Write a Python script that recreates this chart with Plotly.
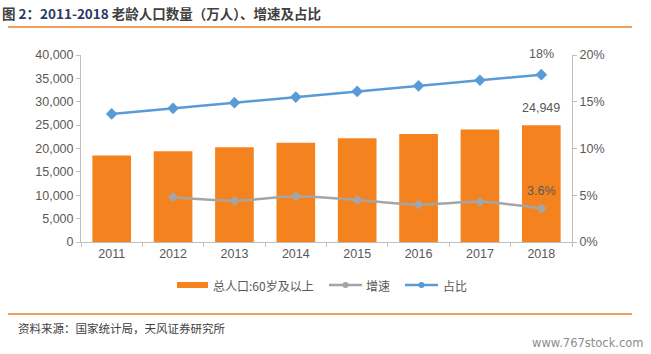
import plotly.graph_objects as go

years = ["2011", "2012", "2013", "2014", "2015", "2016", "2017", "2018"]
population = [18499, 19390, 20243, 21242, 22200, 23086, 24090, 24949]  # 万人, 60岁及以上
growth = [None, 0.048, 0.044, 0.049, 0.045, 0.040, 0.043, 0.036]
share = [0.137, 0.143, 0.149, 0.155, 0.161, 0.167, 0.173, 0.179]

ORANGE = "#F4831F"
GRAY = "#A5A5A5"
BLUE = "#5B9BD5"
TXT = "#595959"
NUM_FONT = "Liberation Sans, Arial, sans-serif"
CJK_FONT = "Noto Sans CJK SC, sans-serif"

fig = go.Figure()
fig.add_trace(go.Bar(x=years, y=population, name="总人口:60岁及以上",
                     marker=dict(color=ORANGE, line=dict(width=0)), width=0.63,
                     yaxis="y"))
fig.add_trace(go.Scatter(x=years, y=growth, name="增速", mode="lines+markers",
                         line=dict(color=GRAY, width=2.5, shape="spline", smoothing=0.8),
                         marker=dict(symbol="diamond", size=8, color=GRAY),
                         yaxis="y2", connectgaps=False))
fig.add_trace(go.Scatter(x=years, y=share, name="占比", mode="lines+markers",
                         line=dict(color=BLUE, width=2.5),
                         marker=dict(symbol="diamond", size=9, color=BLUE),
                         yaxis="y2"))

last = len(years) - 1
# data labels for last point
fig.add_annotation(x=last, xref="x", y=share[-1], yref="y2", text=f"{share[-1]:.0%}", showarrow=False,
                   yshift=21, font=dict(family=NUM_FONT, size=12.5, color=TXT))
fig.add_annotation(x=last, xref="x", y=population[-1], yref="y", text=f"{population[-1]:,}",
                   showarrow=False, yshift=17, font=dict(family=NUM_FONT, size=12.5, color=TXT))
fig.add_annotation(x=last, xref="x", y=growth[-1], yref="y2", text=f"{growth[-1]:.1%}", showarrow=False,
                   yshift=17, font=dict(family=NUM_FONT, size=12.5, color=TXT))

axis_line = "#BFBFBF"
fig.update_layout(
    width=651, height=354,
    margin=dict(l=81, r=79, t=55, b=112),
    paper_bgcolor="white", plot_bgcolor="white",
    showlegend=False,
    xaxis=dict(type="category", range=[-0.5, 7.5], showline=True, linecolor=axis_line,
               linewidth=1, ticks="outside", tickson="boundaries", ticklen=4,
               tickcolor=axis_line, showgrid=False,
               tickfont=dict(family=NUM_FONT, size=12.5, color=TXT)),
    yaxis=dict(range=[0, 40000], dtick=5000, tickformat=",", showgrid=False,
               showline=True, linecolor=axis_line, ticks="outside", ticklen=4,
               tickcolor=axis_line, zeroline=False,
               tickfont=dict(family=NUM_FONT, size=12.5, color=TXT)),
    yaxis2=dict(range=[0, 0.20], dtick=0.05, tickformat=".0%", overlaying="y",
                side="right", showgrid=False, showline=True, linecolor=axis_line,
                ticks="outside", ticklen=4, tickcolor=axis_line, zeroline=False,
                tickfont=dict(family=NUM_FONT, size=12.5, color=TXT)),
)

# Title
fig.add_annotation(xref="paper", yref="paper", x=-81/491, y=1 + (55 - 13) / 187, xanchor="left",
                   yanchor="middle", showarrow=False,
                   text="<b>图 <span style='color:#2B3A67'>2：2011-2018</span> 老龄人口数量（万人）、增速及占比</b>",
                   font=dict(family=CJK_FONT, size=13.5, color="#404040"))
# top and bottom orange rules
fig.add_shape(type="line", xref="paper", yref="paper", x0=-73/491, x1=(632 - 81) / 491,
              y0=1 + (55 - 27) / 187, y1=1 + (55 - 27) / 187, line=dict(color="#E8822A", width=1.3))
fig.add_shape(type="line", xref="paper", yref="paper", x0=-73/491, x1=(632 - 81) / 491,
              y0=-(314 - 242) / 187, y1=-(314 - 242) / 187, line=dict(color="#E8822A", width=1.3))

# Manual legend
def px(x):
    return (x - 81) / 491

def py(y):
    return (242 - y) / 187

ly = py(285)
fig.add_shape(type="rect", xref="paper", yref="paper", x0=px(177), x1=px(208),
              y0=py(288), y1=py(282), fillcolor=ORANGE, line=dict(width=0))
fig.add_annotation(xref="paper", yref="paper", x=px(211), y=ly, xanchor="left", yanchor="middle",
                   showarrow=False, text="总人口:60岁及以上",
                   font=dict(family=CJK_FONT, size=12, color=TXT))
fig.add_shape(type="line", xref="paper", yref="paper", x0=px(329), x1=px(362), y0=ly, y1=ly,
              line=dict(color=GRAY, width=2.5))
fig.add_shape(type="circle", xref="paper", yref="paper", x0=px(342.5), x1=px(348.5),
              y0=py(288), y1=py(282), fillcolor=GRAY, line=dict(width=0))
fig.add_annotation(xref="paper", yref="paper", x=px(364), y=ly, xanchor="left", yanchor="middle",
                   showarrow=False, text="增速", font=dict(family=CJK_FONT, size=12, color=TXT))
fig.add_shape(type="line", xref="paper", yref="paper", x0=px(405), x1=px(438), y0=ly, y1=ly,
              line=dict(color=BLUE, width=2.5))
fig.add_shape(type="circle", xref="paper", yref="paper", x0=px(418.5), x1=px(424.5),
              y0=py(288), y1=py(282), fillcolor=BLUE, line=dict(width=0))
fig.add_annotation(xref="paper", yref="paper", x=px(441), y=ly, xanchor="left", yanchor="middle",
                   showarrow=False, text="占比", font=dict(family=CJK_FONT, size=12, color=TXT))

# Source and watermark
fig.add_annotation(xref="paper", yref="paper", x=px(16), y=py(328), xanchor="left", yanchor="middle",
                   showarrow=False, text="资料来源：国家统计局，天风证券研究所",
                   font=dict(family=CJK_FONT, size=11.5, color="#404040"))
fig.add_annotation(xref="paper", yref="paper", x=px(646), y=py(343), xanchor="right", yanchor="middle",
                   showarrow=False, text="www.767stock.com",
                   font=dict(family="DejaVu Sans, sans-serif", size=11.5, color="#8C8C8C"))

fig.write_html("out.html")
